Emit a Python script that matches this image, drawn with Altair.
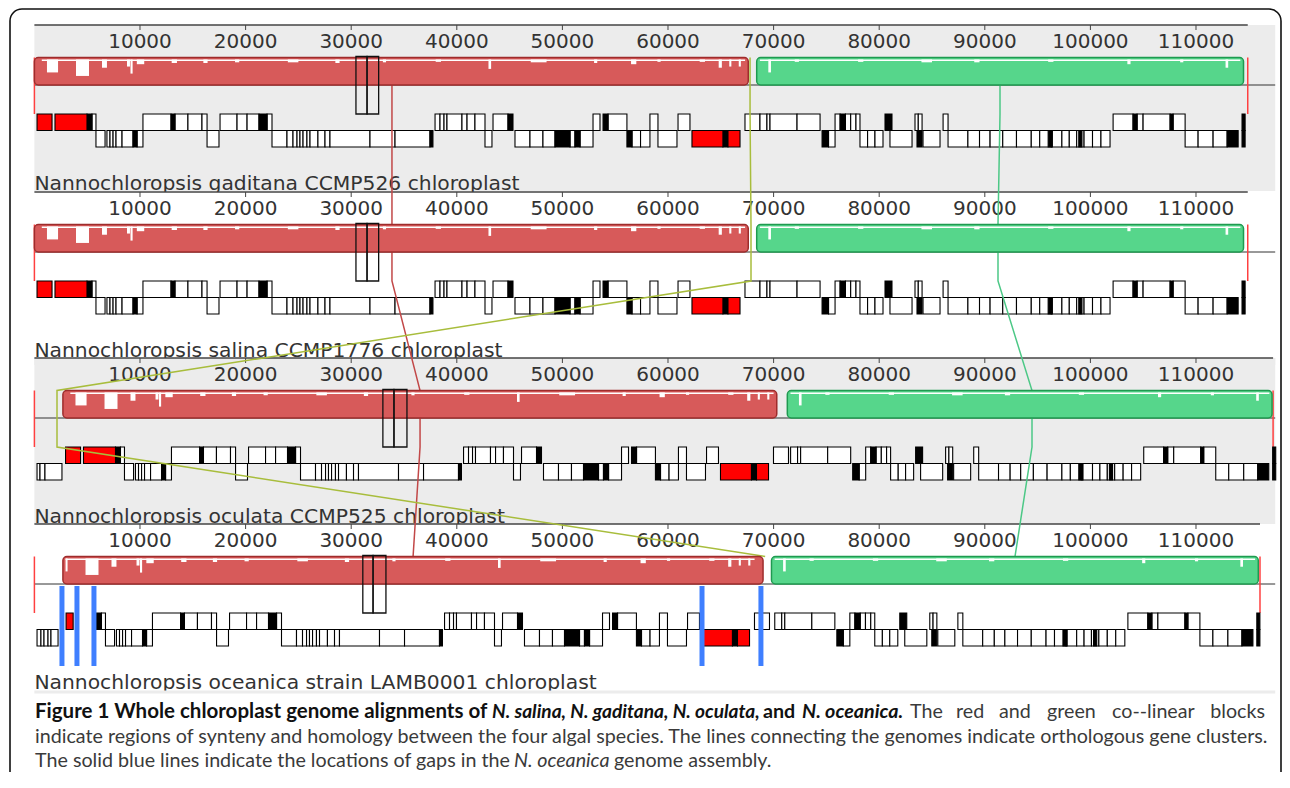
import altair as alt
import pandas as pd

# ------------------------------------------------------------------ data
GENOMES = [
    "Nannochloropsis gaditana CCMP526 chloroplast",
    "Nannochloropsis salina CCMP1776 chloroplast",
    "Nannochloropsis oculata CCMP525 chloroplast",
    "Nannochloropsis oceanica strain LAMB0001 chloroplast",
]
GENOME_LEN = [114900, 114900, 117300, 116060]
TICKS = [10000, 20000, 30000, 40000, 50000, 60000, 70000, 80000, 90000, 100000, 110000]

# locally collinear blocks (bp) per genome
RED_LCB = [[0, 67600], [0, 67600], [2700, 70300], [2700, 69000]]
GREEN_LCB = [[68400, 114500], [68400, 114500], [71300, 117200], [69800, 115900]]

# the tall split box (two adjacent boxes) per genome
SPLIT_BOX = [[30450, 31500, 32600], [30450, 31500, 32600],
             [33000, 34050, 35280], [31100, 32070, 33290]]

# the other genomes carry the same genes displaced by their block offsets
GENES_REF = [
    (250, 1670, "+", "red"), (1950, 4980, "+", "red"), (4980, 5450, "+", "black"),
    (5450, 5830, "+", "white"), (5830, 6690, "-", "white"), (6870, 7160, "-", "white"),
    (7160, 7450, "-", "white"), (7450, 7730, "-", "white"), (7730, 8300, "-", "white"),
    (8300, 9340, "-", "white"), (9340, 9720, "-", "black"), (9720, 10280, "-", "white"),
    (10280, 12940, "+", "white"), (12940, 13310, "+", "black"), (13310, 14540, "+", "white"),
    (14540, 15870, "+", "white"), (15870, 16350, "+", "white"), (16350, 17480, "-", "white"),
    (17580, 19190, "+", "white"), (19190, 20140, "+", "white"), (20140, 21270, "+", "white"),
    (21270, 22030, "+", "black"), (22030, 22500, "+", "white"), (22500, 23920, "-", "white"),
    (23920, 24490, "-", "white"), (24490, 24870, "-", "white"), (24870, 25150, "-", "white"),
    (25150, 25440, "-", "white"), (25440, 25810, "-", "white"), (25810, 26100, "-", "white"),
    (26100, 26850, "-", "white"), (26850, 27520, "-", "white"), (27520, 27990, "-", "white"),
    (27990, 31780, "-", "white"), (31780, 34150, "-", "white"), (34150, 37460, "-", "white"),
    (37460, 37740, "-", "black"), (37940, 38410, "+", "white"), (38410, 38790, "+", "white"),
    (38790, 39070, "+", "white"), (39070, 40490, "+", "white"), (40490, 40970, "+", "white"),
    (40970, 41720, "+", "white"), (41720, 42670, "+", "white"), (42670, 43330, "-", "white"),
    (43430, 44850, "+", "white"), (44850, 45320, "+", "black"), (45510, 46930, "-", "white"),
    (46930, 48160, "-", "white"), (48160, 49300, "-", "white"), (49300, 50720, "-", "black"),
    (50720, 51190, "-", "white"), (51190, 51670, "-", "black"), (51670, 52900, "-", "white"),
    (52900, 53560, "+", "white"), (53850, 54320, "+", "black"), (54320, 56110, "+", "white"),
    (56110, 56590, "-", "black"), (56590, 57400, "-", "white"), (57400, 58290, "-", "white"),
    (58290, 59050, "+", "white"), (59050, 60850, "-", "white"), (60950, 62080, "+", "white"),
    (62270, 65200, "-", "red"), (65200, 65680, "-", "black"), (65680, 66820, "-", "red"),
    (67290, 68710, "+", "white"), (68710, 69370, "+", "white"), (69370, 69660, "+", "white"),
    (69660, 72220, "+", "white"), (72220, 74400, "+", "white"), (74590, 75200, "-", "black"),
    (75200, 75820, "-", "white"), (75820, 76300, "+", "white"), (76300, 76800, "+", "black"),
    (76800, 77300, "+", "white"), (77300, 77800, "+", "white"), (77800, 78180, "+", "white"),
    (78180, 78900, "-", "white"), (78900, 79600, "-", "white"), (79600, 80360, "-", "white"),
    (80550, 81210, "+", "black"), (81020, 83110, "-", "white"), (83390, 83700, "+", "white"),
    (83700, 84060, "+", "white"), (83580, 84060, "-", "black"), (84150, 85760, "-", "white"),
    (86050, 86520, "+", "white"), (86520, 88400, "-", "white"), (88400, 89500, "-", "white"),
    (89500, 90500, "-", "white"), (90500, 91700, "-", "white"), (91700, 93000, "-", "white"),
    (93000, 94400, "-", "white"), (94400, 95200, "-", "white"), (95200, 96300, "-", "white"),
    (96000, 96400, "-", "black"), (96300, 97300, "-", "white"), (97300, 98000, "-", "white"),
    (98000, 98700, "-", "white"), (98700, 99400, "-", "white"), (98900, 99200, "-", "black"),
    (99400, 100200, "-", "white"), (100200, 101000, "-", "white"), (101000, 101860, "-", "white"),
    (102150, 104040, "+", "white"), (104040, 104420, "+", "black"), (104420, 104990, "+", "white"),
    (104990, 107550, "+", "white"), (107550, 107830, "+", "black"), (107830, 108970, "+", "white"),
    (108970, 110200, "-", "white"), (110200, 111620, "-", "white"), (111620, 112950, "-", "white"),
    (112950, 113990, "-", "black"), (114360, 114650, "+", "black"), (114360, 114650, "-", "black"),
]
LCB_BREAK = 68000                  # reference coordinate between the two blocks
GENE_SHIFT_RED = [0, 0, 2700, 900]
GENE_SHIFT_GREEN = [0, 0, 2900, 1400]
DROP_GENES = {3: [(250, 1670), (1950, 4980)]}
EXTRA_GENES = {
    2: [(250, 530, "-", "white"), (530, 1000, "-", "white"), (1000, 2610, "-", "white")],
    3: [(3000, 3670, "+", "red"), (250, 620, "-", "white"), (620, 910, "-", "white"),
        (910, 1290, "-", "white"), (1290, 1570, "-", "white"), (1570, 2240, "-", "white")],
}

# similarity-profile dips inside the blocks (bp, fraction of block height)
PROFILE_REF = [
    (700, 67300, 0.06), (68700, 114200, 0.06),
    (1190, 2240, 0.55), (3940, 5170, 0.7), (6400, 6870, 0.35), (8770, 9050, 0.3),
    (9100, 9300, 0.6), (9700, 10400, 0.2), (13000, 13500, 0.15), (16000, 16400, 0.15),
    (19000, 19400, 0.12), (24000, 25000, 0.12), (28500, 28900, 0.15), (33000, 33300, 0.12),
    (38000, 38500, 0.1), (43000, 43250, 0.4), (47000, 48500, 0.12), (53000, 53300, 0.15),
    (56500, 57000, 0.2), (59000, 59300, 0.1), (63000, 63500, 0.1), (64800, 65100, 0.35),
    (65800, 66000, 0.3), (66700, 66900, 0.3), (69500, 69750, 0.55), (72000, 72400, 0.1),
    (78000, 78500, 0.1), (84000, 85000, 0.12), (89000, 89500, 0.12), (96000, 96500, 0.1),
    (103500, 103800, 0.2), (108500, 108800, 0.12), (112800, 113050, 0.35),
]

# orthologous-cluster connectors: position (bp) in each of the four genomes
CONNECTORS = {
    "red": [33860, 33860, 36520, 35860],
    "yellow": [67770, 67860, 2140, 69200],
    "green": [91440, 91250, 94470, 92860],
}
GAPS_OCEANICA = [2610, 4030, 5640, 63220, 68800]

# caption pieces: text, anchor x, line, weight, style, anchor side, size
CAPTION = [
    ("Figure 1 Whole chloroplast genome alignments of", 35, 0, "bold", "normal", "left", 20.5),
    ("N. salina, N. gaditana, N. oculata,", 492, 0, "bold", "italic", "left", 19.1),
    ("and", 763, 0, "bold", "normal", "left", 19.7),
    ("N. oceanica.", 802, 0, "bold", "italic", "left", 19.7),
    ("The", 910, 0, "normal", "normal", "left", 19.7),
    ("red", 956, 0, "normal", "normal", "left", 19.7),
    ("and", 999, 0, "normal", "normal", "left", 19.7),
    ("green", 1047, 0, "normal", "normal", "left", 19.7),
    ("co--linear", 1112, 0, "normal", "normal", "left", 19.7),
    ("blocks", 1265, 0, "normal", "normal", "right", 19.7),
    ("indicate regions of synteny and homology between the four algal species. "
     "The lines connecting the genomes indicate orthologous gene clusters.", 35, 1, "normal", "normal", "left", 19.7),
    ("The solid blue lines indicate the locations of gaps in the", 35, 2, "normal", "normal", "left", 19.7),
    ("N. oceanica", 514, 2, "normal", "italic", "left", 19.7),
    ("genome assembly.", 614, 2, "normal", "normal", "left", 19.7),
]

# ------------------------------------------------------------------ layout
W, H = 1274, 764
M = 8                                  # page margin
TOP = [25, 192, 358, 524]              # panel tops (page px)
PANEL_RIGHT = 117500                   # right edge of panels (bp units)
BLK0, BLK1 = 32.5, 60
GEN0, GEN1, GEN2 = 89, 105.5, 122
BOX0, BOX1 = 31.5, 89
CAP_BASE = [718, 743, 767]
CAP_FONT = "Lato"

XS = alt.Scale(domain=[-2500, 118144], nice=False, zero=False)
YS = alt.Scale(domain=[M, M + H], reverse=True, nice=False, zero=False)


def ex(f):
    return alt.X(f"{f}:Q", scale=XS, axis=None)


def ey(f):
    return alt.Y(f"{f}:Q", scale=YS, axis=None)


def shift(g, s):
    return GENE_SHIFT_RED[g] if s < LCB_BREAK else GENE_SHIFT_GREEN[g]


def rects(df, **mark):
    return alt.Chart(df).mark_rect(**mark).encode(x=ex("x"), x2="x2:Q", y=ey("y"), y2="y2:Q")


# panels
bg = pd.DataFrame([{"x": 0, "x2": PANEL_RIGHT, "y": TOP[g], "y2": TOP[g] + 166} for g in (0, 2)])
cut_grey = pd.DataFrame([{"x": 0, "x2": PANEL_RIGHT, "y": TOP[2], "y2": TOP[2] + 7}])
cut_white = pd.DataFrame([{"x": 0, "x2": PANEL_RIGHT, "y": TOP[g], "y2": TOP[g] + 7} for g in (1, 3)]
                         + [{"x": -2000, "x2": PANEL_RIGHT, "y": TOP[3] + 167, "y2": TOP[3] + 180}])
titles = pd.DataFrame([{"x": 0, "y": TOP[g] + 165, "t": GENOMES[g]} for g in range(4)])
axis = pd.DataFrame([{"x": 0, "x2": GENOME_LEN[g], "y": TOP[g]} for g in range(4)])
base = pd.DataFrame([{"x": 0, "x2": PANEL_RIGHT, "y": TOP[g] + BLK1} for g in range(4)])
ticks = pd.DataFrame([{"x": t, "y": TOP[g], "y2": TOP[g] + 5, "yl": TOP[g] + 22.5, "t": str(t)}
                      for g in range(4) for t in TICKS])

gene_rows = []
for g in range(4):
    for s, e, strand, kind in GENES_REF:
        if (s, e) in DROP_GENES.get(g, []):
            continue
        d = shift(g, s)
        gene_rows.append({"x": s + d, "x2": e + d, "kind": kind,
                          "y": TOP[g] + (GEN0 if strand == "+" else GEN1),
                          "y2": TOP[g] + (GEN1 if strand == "+" else GEN2)})
    for s, e, strand, kind in EXTRA_GENES.get(g, []):
        gene_rows.append({"x": s, "x2": e, "kind": kind,
                          "y": TOP[g] + (GEN0 if strand == "+" else GEN1),
                          "y2": TOP[g] + (GEN1 if strand == "+" else GEN2)})
genes = pd.DataFrame(gene_rows)

ends = pd.DataFrame([{"x": v, "y": TOP[g] + BLK0, "y2": TOP[g] + BOX1}
                     for g in range(4) for v in (0, GENOME_LEN[g])])

red_blocks = pd.DataFrame([{"x": RED_LCB[g][0], "x2": RED_LCB[g][1],
                            "y": TOP[g] + BLK0, "y2": TOP[g] + BLK1} for g in range(4)])
green_blocks = pd.DataFrame([{"x": GREEN_LCB[g][0], "x2": GREEN_LCB[g][1],
                              "y": TOP[g] + BLK0, "y2": TOP[g] + BLK1} for g in range(4)])

prof_rows = []
for g in range(4):
    for s, e, f in PROFILE_REF:
        d = shift(g, s)
        lo, hi = (RED_LCB[g] if s < LCB_BREAK else GREEN_LCB[g])
        a, b = max(s + d, lo + 250), min(e + d, hi - 250)
        if b > a:
            prof_rows.append({"x": a, "x2": b, "y": TOP[g] + BLK0 + 2,
                              "y2": TOP[g] + BLK0 + 2 + f * (BLK1 - BLK0 - 4)})
prof = pd.DataFrame(prof_rows)

boxes = pd.DataFrame([{"x": SPLIT_BOX[g][k], "x2": SPLIT_BOX[g][k + 1], "y": TOP[g] + BOX0, "y2": TOP[g] + BOX1}
                      for g in range(4) for k in (0, 1)])

CONN_COLOR = {"red": "#c24848", "yellow": "#a8bd3c", "green": "#4cc886"}
conn_layers = []
for c, pos in CONNECTORS.items():
    rows = []
    for g in range(4):
        rows.append({"o": 2 * g, "x": pos[g], "y": TOP[g] + BLK0})
        if g < 3:
            rows.append({"o": 2 * g + 1, "x": pos[g], "y": TOP[g] + GEN0})
    conn_layers.append(alt.Chart(pd.DataFrame(rows)).mark_line(strokeWidth=1.5, color=CONN_COLOR[c])
                       .encode(x=ex("x"), y=ey("y"), order="o:Q"))

gaps = pd.DataFrame([{"x": v, "y": TOP[3] + 62, "y2": TOP[3] + 142} for v in GAPS_OCEANICA])

# ------------------------------------------------------------------ layers
L = []
L.append(rects(bg, color="#ececec"))
L.append(alt.Chart(titles).mark_text(align="left", baseline="alphabetic", font="DejaVu Sans",
                                     fontSize=20.3, color="#333333")
         .encode(x=ex("x"), y=ey("y"), text="t:N"))
L.append(rects(cut_grey, color="#ececec"))
L.append(rects(cut_white, color="#ffffff"))
L.append(alt.Chart(pd.DataFrame([{"x": 0, "x2": PANEL_RIGHT, "y": TOP[3] + 168}]))
         .mark_rule(color="#ececec", strokeWidth=3).encode(x=ex("x"), x2="x2:Q", y=ey("y")))
L.append(alt.Chart(axis).mark_rule(color="#444444", strokeWidth=1.5).encode(x=ex("x"), x2="x2:Q", y=ey("y")))
L.append(alt.Chart(ticks).mark_rule(color="#444444", strokeWidth=1).encode(x=ex("x"), y=ey("y"), y2="y2:Q"))
L.append(alt.Chart(ticks).mark_text(align="center", baseline="alphabetic", font="DejaVu Sans",
                                    fontSize=20, color="#333333")
         .encode(x=ex("x"), y=ey("yl"), text="t:N"))
L.append(alt.Chart(base).mark_rule(color="#333333", strokeWidth=1).encode(x=ex("x"), x2="x2:Q", y=ey("y")))
L.append(alt.Chart(ends).mark_rule(color="#ff4040", strokeWidth=1.5).encode(x=ex("x"), y=ey("y"), y2="y2:Q"))
for kind, fill in (("white", "#ffffff"), ("black", "#000000"), ("red", "#ff0000")):
    sub = genes[genes["kind"] == kind]
    L.append(rects(sub, color=fill, stroke="#000000", strokeWidth=1.1))
L.extend(conn_layers)
L.append(rects(red_blocks, color="#d75a5a", stroke="#9e2c2c", strokeWidth=1.5, cornerRadius=4))
L.append(rects(green_blocks, color="#56d68b", stroke="#1f9a50", strokeWidth=1.5, cornerRadius=4))
L.append(rects(prof, color="#ffffff"))
L.append(rects(boxes, filled=False, stroke="#111111", strokeWidth=1.3))
L.append(alt.Chart(gaps).mark_rule(color="#3f7fff", strokeWidth=5).encode(x=ex("x"), y=ey("y"), y2="y2:Q"))

for txt, px, line, wt, st, side, size in CAPTION:
    L.append(alt.Chart(pd.DataFrame({"t": [txt]})).mark_text(
        align=side, baseline="alphabetic", font=CAP_FONT, fontSize=size,
        fontWeight=wt, fontStyle=st, color="#111111" if wt == "bold" else "#3a3a3a")
        .encode(x=alt.value(px - M), y=alt.value(CAP_BASE[line] - M), text="t:N"))

L.append(alt.Chart(pd.DataFrame({"a": [0]})).mark_rect(filled=False, stroke="#111111", strokeWidth=1.6,
                                                     cornerRadius=12)
         .encode(x=alt.value(2), x2=alt.value(1273), y=alt.value(1), y2=alt.value(800)))

chart = alt.layer(*L).properties(width=W, height=H, padding=0, autosize="none",
                                 background="#ffffff").configure_view(strokeWidth=0)

chart.save("out.html", embed_options={"renderer": "svg", "actions": False})
